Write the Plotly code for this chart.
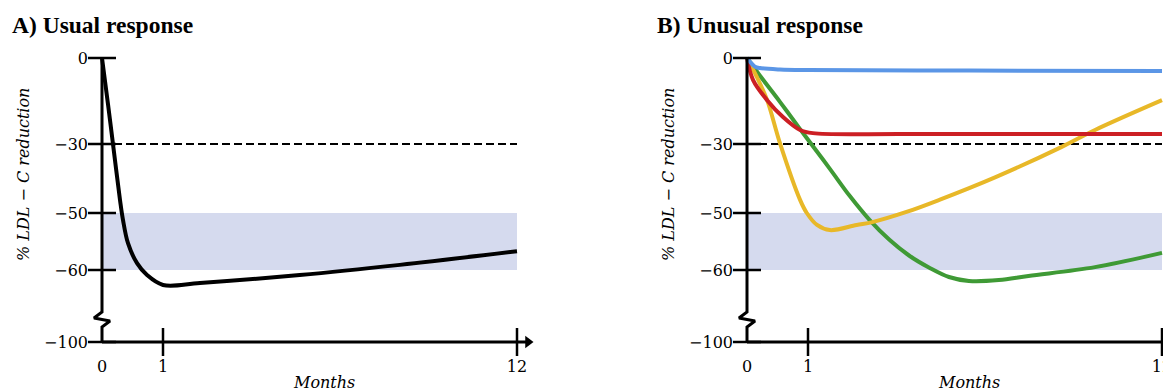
import numpy as np
import plotly.graph_objects as go

# ---------------- data (months, % LDL-C reduction) ----------------
usual_month = [0, 0.1, 0.18, 0.295, 0.344, 0.426, 0.574, 0.738, 1.0, 2.15, 5.25, 8.36, 12]
usual_value = [0, -16.4, -30, -46.2, -51.2, -55.3, -58.8, -62.8, -68.3, -67.2, -62.8, -59.1, -56.7]

blue_month = [0, 0.05, 0.13, 0.21, 0.54, 1, 6, 12]
blue_value = [0, -1.3, -3.0, -3.5, -4.0, -4.2, -4.4, -4.5]

red_month = [0, 0.1, 0.33, 0.59, 0.87, 1.15, 4, 12]
red_value = [0, -7.7, -14.7, -20.6, -25.1, -26.2, -26.5, -26.5]

green_month = [0, 0.21, 0.54, 0.87, 1.06, 1.68, 2.30, 2.91, 3.53, 4.15, 4.77, 5.38, 6.0, 6.93, 7.85, 9.92, 12]
green_value = [0, -6.1, -15.3, -24.8, -29.4, -37.2, -45.1, -51.2, -54.7, -57.5, -59.6, -63.9, -66.1, -65.6, -63.3, -59.5, -57.0]

yellow_month = [0, 0.16, 0.33, 0.54, 0.87, 0.98, 1.28, 1.68, 2.51, 3.0, 4.06, 5.08, 6.83, 8.87, 9.92, 12]
yellow_value = [0, -6.6, -14.7, -29.7, -46.2, -50, -52.1, -53.0, -52.1, -51.6, -49.7, -46.2, -39.6, -30.9, -25.1, -14.7]

threshold = -30
band = [-50, -60]
y_ticks = [0, -30, -50, -60, -100]
y_ticktext = ["0", "\u221230", "\u221250", "\u221260", "\u2212100"]
x_ticks = [0, 1, 12]
x_ticktext = ["0", "1", "12"]

# ---------------- schematic (broken) axis scales ----------------
Y_KNOT_VAL = [0, 30, 50, 60, 100]
Y_KNOT_POS = [0, 86, 155, 212, 284]
X_KNOT_VAL = [0, 1, 12]
X_KNOT_POS = [0, 61, 415]


def sy(v):
    return -np.interp(-np.asarray(v, dtype=float), Y_KNOT_VAL, Y_KNOT_POS)


def sx(m):
    return np.interp(np.asarray(m, dtype=float), X_KNOT_VAL, X_KNOT_POS)


# page has an 8px body margin; the figure is sized/offset to compensate
OFF = 8
PW, PH = 1171, 391          # page (screenshot) size
W, H = PW - OFF, PH - OFF   # figure size
AX_LEFT = [102, 747]        # page x of the y axes
Y0_PIX = 58                 # page y of the 0 tick
PLOT_BOTTOM = 352           # page y of plot-area bottom


def px(xp):
    return (xp - OFF) / W


def py(yp):
    return 1 - (yp - OFF) / H


fig = go.Figure()

serif = "DejaVu Serif"
BLACK = "#000000"


def add_panel(i, series):
    xa = "x" if i == 0 else "x2"
    ya = "y" if i == 0 else "y2"
    fig.add_shape(type="rect", xref=xa, yref=ya,
                  x0=float(sx(0)), x1=float(sx(12)),
                  y0=float(sy(band[0])), y1=float(sy(band[1])),
                  fillcolor="#d5daee", line_width=0, layer="below")
    fig.add_trace(go.Scatter(x=sx([0, 12]), y=sy([threshold, threshold]),
                             mode="lines", line=dict(color=BLACK, width=2, dash="8px,4px"),
                             xaxis=xa, yaxis=ya, hoverinfo="skip", showlegend=False))
    for mx, vy, col in series:
        fig.add_trace(go.Scatter(x=sx(mx), y=sy(vy), mode="lines",
                                 line=dict(color=col, width=4, shape="spline", smoothing=1.0),
                                 xaxis=xa, yaxis=ya, hoverinfo="skip", showlegend=False))
    y_top = float(sy(0))
    y_bot = float(sy(-100))
    brk = y_bot + 30
    fig.add_trace(go.Scatter(x=[0, 0, -8, 8, 0, 0],
                             y=[y_top, brk, brk - 6, brk - 9, brk - 15, y_bot],
                             mode="lines", line=dict(color=BLACK, width=3),
                             xaxis=xa, yaxis=ya, hoverinfo="skip", showlegend=False))
    x_end = 426 if i == 0 else 440
    fig.add_trace(go.Scatter(x=[0, x_end], y=[y_bot, y_bot], mode="lines",
                             line=dict(color=BLACK, width=3),
                             xaxis=xa, yaxis=ya, hoverinfo="skip", showlegend=False))
    fig.add_trace(go.Scatter(x=[x_end], y=[y_bot], mode="markers",
                             marker=dict(symbol="triangle-right", size=11, color=BLACK),
                             xaxis=xa, yaxis=ya, hoverinfo="skip", showlegend=False,
                             cliponaxis=False))
    fig.add_trace(go.Scatter(x=[0] * len(y_ticks), y=sy(y_ticks), mode="markers",
                             marker=dict(symbol="line-ew", size=20,
                                         line=dict(color=BLACK, width=2.5)),
                             xaxis=xa, yaxis=ya, hoverinfo="skip", showlegend=False))
    fig.add_trace(go.Scatter(x=sx(x_ticks[1:]), y=[y_bot] * (len(x_ticks) - 1), mode="markers",
                             marker=dict(symbol="line-ns", size=20,
                                         line=dict(color=BLACK, width=2.5)),
                             xaxis=xa, yaxis=ya, hoverinfo="skip", showlegend=False,
                             cliponaxis=False))


add_panel(0, [(usual_month, usual_value, "#000000")])
add_panel(1, [(green_month, green_value, "#3f9a35"),
              (yellow_month, yellow_value, "#e8b828"),
              (red_month, red_value, "#cc1f24"),
              (blue_month, blue_value, "#5b96e6")])

ydom = [1 - (PLOT_BOTTOM - OFF) / H, 1]
yrange = [Y0_PIX - PLOT_BOTTOM, Y0_PIX - OFF]
common_x = dict(showgrid=False, zeroline=False, showline=False, ticks="",
                tickvals=list(sx(x_ticks)), ticktext=x_ticktext, ticklabelstandoff=3,
                ticklabeloverflow="allow",
                tickfont=dict(family=serif, size=16, color=BLACK))
common_y = dict(showgrid=False, zeroline=False, showline=False, ticks="",
                tickvals=list(sy(y_ticks)), ticktext=y_ticktext, range=yrange,
                domain=ydom, anchor="free", ticklabelstandoff=14,
                tickfont=dict(family=serif, size=16, color=BLACK))

left_x0, left_x1 = OFF, OFF + W / 2
right_x0, right_x1 = OFF + W / 2, PW
fig.update_layout(
    width=W, height=H, margin=dict(l=0, r=0, t=0, b=0),
    paper_bgcolor="white", plot_bgcolor="rgba(0,0,0,0)",
    xaxis=dict(domain=[0, 0.5], range=[left_x0 - AX_LEFT[0], left_x1 - AX_LEFT[0]],
               anchor="y", **common_x),
    xaxis2=dict(domain=[0.5, 1], range=[right_x0 - AX_LEFT[1], right_x1 - AX_LEFT[1]],
                anchor="y2", **common_x),
    yaxis=dict(position=px(AX_LEFT[0]), **common_y),
    yaxis2=dict(position=px(AX_LEFT[1]), **common_y),
    hovermode=False,
)

titles = ["A) Usual response", "B) Unusual response"]
title_x = [10, 655]
for i in range(2):
    fig.add_annotation(text="<b>%s</b>" % titles[i], xref="paper", yref="paper",
                       x=px(title_x[i]), y=py(25), xanchor="left", yanchor="middle",
                       showarrow=False, font=dict(family="Liberation Serif", size=23.5, color=BLACK))
    fig.add_annotation(text="<i>Months</i>", xref="paper", yref="paper",
                       x=px(324 + 645 * i), y=py(382), xanchor="center", yanchor="middle",
                       showarrow=False, font=dict(family=serif, size=16, color=BLACK))
    fig.add_annotation(text="<i>% LDL \u2212 C reduction</i>", xref="paper", yref="paper",
                       x=px(23 + 645 * i), y=py(175), xanchor="center", yanchor="middle",
                       textangle=-90, showarrow=False,
                       font=dict(family=serif, size=16, color=BLACK))

fig.write_html("out.html", config={"displayModeBar": False})
